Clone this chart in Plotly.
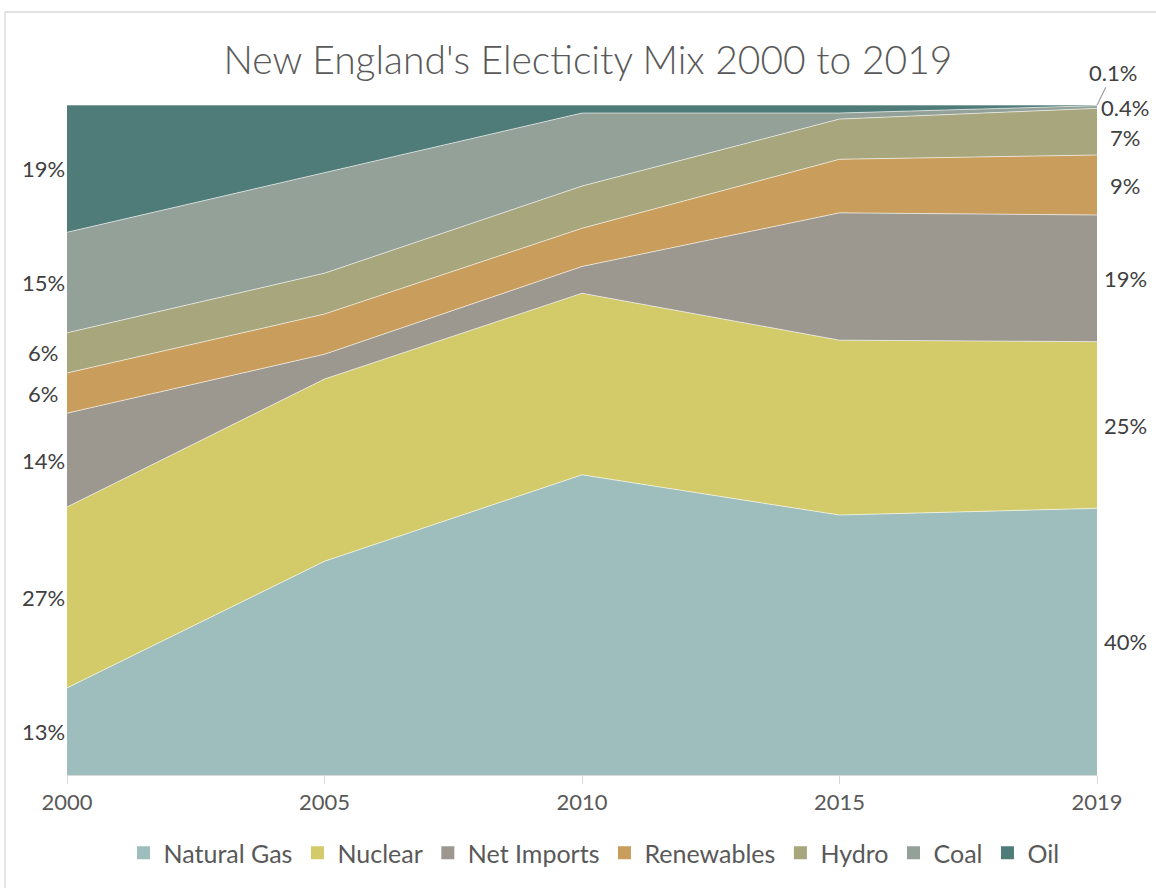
import plotly.graph_objects as go

years = ["2000", "2005", "2010", "2015", "2019"]
natural_gas = [13.0, 31.9, 44.8, 38.8, 40.0]
nuclear = [27.0, 27.2, 27.1, 26.1, 25.0]
net_imports = [14.0, 3.7, 4.0, 19.0, 19.0]
renewables = [6.0, 6.0, 5.7, 8.0, 9.0]
hydro = [6.0, 6.1, 6.3, 6.0, 7.0]
coal = [15.0, 15.0, 10.9, 0.9, 0.4]
oil = [19.0, 10.1, 1.2, 1.2, 0.1]

names = ["Natural Gas", "Nuclear", "Net Imports", "Renewables", "Hydro", "Coal", "Oil"]
series = [natural_gas, nuclear, net_imports, renewables, hydro, coal, oil]
colors = ["#9DBEBD", "#D3CB6A", "#9C9890", "#C99D5C", "#A8A67C", "#93A198", "#4F7B79"]
left_labels = ["13%", "27%", "14%", "6%", "6%", "15%", "19%"]
right_labels = ["40%", "25%", "19%", "9%", "7%", "0.4%", "0.1%"]

FONT = "Lato"
TXT = "#595959"
LBL = "#404040"

fig = go.Figure()
for n, s, c in zip(names, series, colors):
    fig.add_trace(go.Scatter(
        x=years, y=s, name=n, mode="lines", stackgroup="one", groupnorm="percent",
        line=dict(width=1, color="rgba(255,255,255,0.6)"), fillcolor=c,
        hoverinfo="x+y+name", showlegend=False,
    ))
# legend entries (square swatches)
for n, c in zip(names, colors):
    fig.add_trace(go.Scatter(x=[None], y=[None], mode="markers", name=n,
                             marker=dict(symbol="square", size=13, color=c),
                             showlegend=True, hoverinfo="skip"))

def norm_col(i):
    tot = sum(s[i] for s in series)
    return [s[i] * 100 / tot for s in series]

annotations = []
for idx, labels, xshift in [(0, left_labels, -24), (4, right_labels, 28)]:
    col = norm_col(idx)
    cum = 0
    for v, lab in zip(col, labels):
        mid = cum + v / 2
        cum += v
        if idx == 4 and lab == "0.1%":
            annotations.append(dict(x=idx, y=mid, text=lab, showarrow=True, arrowhead=0,
                                    arrowwidth=1.3, arrowcolor="#A6A6A6", ax=16, ay=-33,
                                    standoff=0, startstandoff=0,
                                    font=dict(family=FONT, size=22, color=LBL)))
            continue
        ys = -6 if (idx == 4 and lab == "7%") else 0
        annotations.append(dict(x=idx, y=mid, text=lab, showarrow=False, xanchor="center",
                                yanchor="middle", xshift=xshift, yshift=ys,
                                font=dict(family=FONT, size=22, color=LBL)))

W, H = 1156, 888
L, T = 67, 105
fig.update_layout(
    width=W, height=H,
    margin=dict(l=L, r=W - L - 1030, t=T, b=H - T - 670),
    paper_bgcolor="white", plot_bgcolor="white",
    font=dict(family=FONT, color=TXT, size=20),
    title=dict(text="New England's Electicity Mix 2000 to 2019", x=588 / W, xref="container",
               xanchor="center", y=1 - 60 / H, yref="container", yanchor="middle",
               font=dict(family=FONT, size=39, color=TXT, weight=300)),
    xaxis=dict(type="category", range=[0, 4], showgrid=False, showline=True,
               linecolor="#D9D9D9", linewidth=1, ticks="outside", ticklen=8,
               tickcolor="#D9D9D9", tickfont=dict(family=FONT, size=22, color=TXT),
               zeroline=False),
    yaxis=dict(range=[0, 100], visible=False, showgrid=False),
    legend=dict(orientation="h", x=594 / W, xanchor="center", xref="container",
                y=1 - 853 / H, yref="container", yanchor="middle",
                font=dict(family=FONT, size=25, color=TXT),
                traceorder="normal", itemwidth=30),
    showlegend=True,
    annotations=annotations,
    shapes=[dict(type="rect", xref="paper", yref="paper", x0=-62 / 1030, x1=1.07,
                 y0=-0.2, y1=(775 - 12) / 670,
                 line=dict(color="#D9D9D9", width=1.3), fillcolor="rgba(0,0,0,0)", layer="below")],
)

fig.write_html("out.html", config={"displayModeBar": False},
               post_script="document.body.style.margin='0px';document.body.style.overflow='hidden';")
